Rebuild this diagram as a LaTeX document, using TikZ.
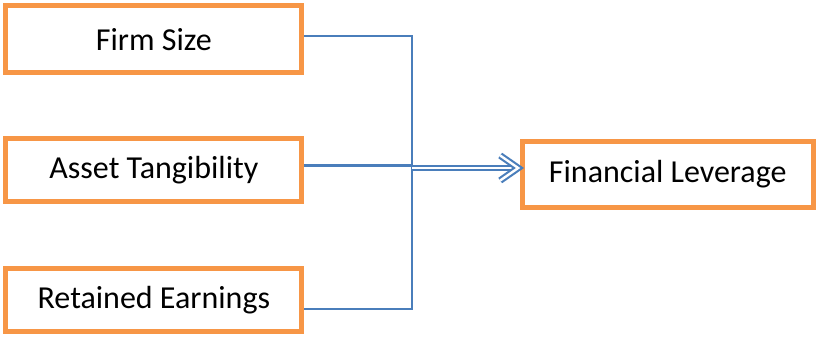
\documentclass[tikz,border=0pt]{standalone}
\usepackage{fontspec}
\setmainfont{Carlito}
\definecolor{boxorange}{HTML}{F79646}
\definecolor{lineblue}{HTML}{4A7EBB}
\begin{document}
\begin{tikzpicture}[x=0.75pt,y=-0.75pt,
  factor/.style={draw=boxorange,line width=3.75pt,fill=white,inner sep=0pt,
    minimum width=222pt,font=\fontsize{24}{28}\selectfont},
  link/.style={draw=lineblue,line width=1.9pt},
  dlink/.style={draw=lineblue,double=white,line width=1.6pt,double distance=1.8pt,line join=miter}]
\useasboundingbox (0,0) rectangle (817,336);
\node[factor,minimum height=49.9pt] (b1) at (153.9,39.25) {Firm Size};
\node[factor,minimum height=47.3pt] (b2) at (153.9,170) {Asset Tangibility};
\node[factor,minimum height=46.9pt] (b3) at (153.9,300.25) {Retained Earnings};
\node[factor,minimum width=218.6pt,minimum height=49.5pt] (fl) at (667.75,174) {Financial Leverage};
\coordinate (top) at (412,36);
\coordinate (bot) at (412,309);
\coordinate (mid) at (412,165.5);
\coordinate (j) at (412,168);
\draw[link] (b1.east |- top) -- (top) -- (bot) -- (b3.east |- bot);
\draw[link] (b2.east |- mid) -- (mid);
\coordinate (tip) at ([xshift=-1pt]fl.west |- j);
\draw[dlink] (j) -- ([xshift=-2pt]tip);
\draw[dlink] ([shift={(-18,-12.5)}]tip) -- (tip) -- ([shift={(-18,12.5)}]tip);
\end{tikzpicture}
\end{document}
